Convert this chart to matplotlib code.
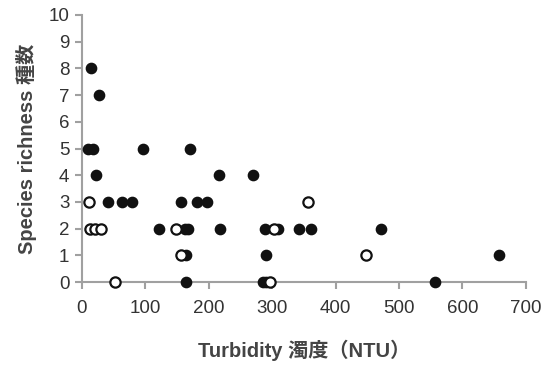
import matplotlib

matplotlib.use("Agg")

import matplotlib.pyplot as plt

plt.rcParams["font.family"] = ["Liberation Sans", "Noto Sans CJK JP", "DejaVu Sans"]

# filled points (turbidity NTU, species richness)
filled_x = [14, 27, 9, 17, 96, 171,
            22, 216, 270,
            42, 64, 79, 157, 182, 198,
            121, 162, 167, 218, 288, 309, 343, 362, 472,
            165, 291, 658,
            165, 285, 290, 557]
filled_y = [8, 7, 5, 5, 5, 5,
            4, 4, 4,
            3, 3, 3, 3, 3, 3,
            2, 2, 2, 2, 2, 2, 2, 2, 2,
            1, 1, 1,
            0, 0, 0, 0]

# open points
open_x = [12, 13, 21, 31, 148, 303, 356, 157, 448, 53, 296]
open_y = [3, 2, 2, 2, 2, 2, 3, 1, 1, 0, 0]

x_ticks = list(range(0, 701, 100))
y_ticks = list(range(0, 11))

fig = plt.figure(figsize=(5.49, 3.65), dpi=100)
fig.patch.set_facecolor("white")
ax = fig.add_axes([0.149, 0.227, 0.809, 0.732])

ax.plot(filled_x, filled_y, "o", color="#111111", markersize=7.4, clip_on=False, zorder=3)
ax.plot(open_x, open_y, "o", markerfacecolor="white", markeredgecolor="#111111",
        markeredgewidth=1.6, markersize=7.4, clip_on=False, zorder=4)

ax.set_xlim(0, 700)
ax.set_ylim(0, 10)
ax.set_xticks(x_ticks)
ax.set_yticks(y_ticks)

for side in ("top", "right"):
    ax.spines[side].set_visible(False)
for side in ("left", "bottom"):
    ax.spines[side].set_color("#a0a0a0")
    ax.spines[side].set_linewidth(1.5)

ax.tick_params(axis="both", direction="out", length=5, width=1.5, color="#a0a0a0",
               labelsize=13.5, labelcolor="#333333")
ax.tick_params(axis="x", pad=8)
ax.tick_params(axis="y", pad=4)

ax.set_xlabel("Turbidity 濁度（NTU）", fontsize=14.5, fontweight="bold", color="#444444", labelpad=16)
ax.set_ylabel("Species richness 種数", fontsize=14.5, fontweight="bold", color="#444444", labelpad=8)

fig.savefig("out.png", dpi=100, facecolor="white")
plt.close(fig)
